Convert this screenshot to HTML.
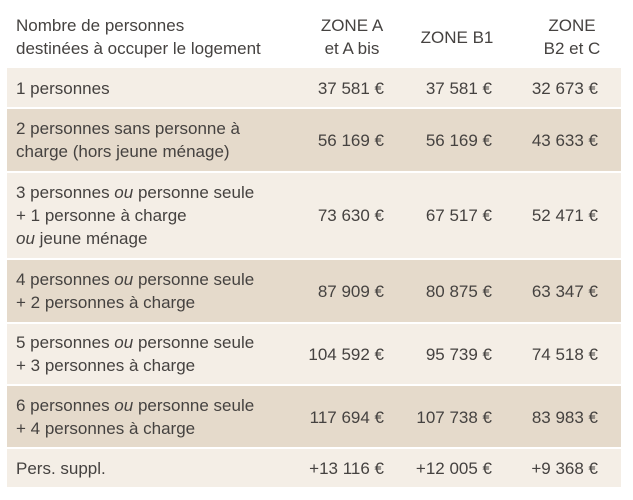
<!DOCTYPE html>
<html><head><meta charset="utf-8"><style>
body{margin:0;width:633px;height:500px;background:#fff;font-family:"Liberation Sans",sans-serif;font-size:17px;color:#454240;position:relative;overflow:hidden}
.r{position:absolute;left:7px;width:614px}
.l{background:#f4eee6}.d{background:#e5dacb}
.t{position:absolute;left:9px;line-height:23px}
.v{position:absolute;line-height:23px;text-align:right;width:110px}
.a{left:267px}.b{left:375px}.c{left:481px}
.h{position:absolute;text-align:center;line-height:23px;width:120px}
</style></head><body>
<div class="t" style="left:16px;top:14px">Nombre de personnes<br>destinées à occuper le logement</div>
<div class="h" style="left:292px;top:14px">ZONE A<br>et A bis</div>
<div class="h" style="left:397px;top:26px">ZONE B1</div>
<div class="h" style="left:512px;top:14px">ZONE<br>B2 et C</div>

<div class="r l" style="top:68px;height:39px"><div class="t" style="top:9px">1 personnes</div><div class="v a" style="top:9px">37 581 €</div><div class="v b" style="top:9px">37 581 €</div><div class="v c" style="top:9px">32 673 €</div></div>
<div class="r d" style="top:109px;height:62px"><div class="t" style="top:8px">2 personnes sans personne à<br>charge (hors jeune ménage)</div><div class="v a" style="top:20px">56 169 €</div><div class="v b" style="top:20px">56 169 €</div><div class="v c" style="top:20px">43 633 €</div></div>
<div class="r l" style="top:173px;height:85px"><div class="t" style="top:8px">3 personnes <i>ou</i> personne seule<br>+ 1 personne à charge<br><i>ou</i> jeune ménage</div><div class="v a" style="top:31px">73 630 €</div><div class="v b" style="top:31px">67 517 €</div><div class="v c" style="top:31px">52 471 €</div></div>
<div class="r d" style="top:260px;height:62px"><div class="t" style="top:8px">4 personnes <i>ou</i> personne seule<br>+ 2 personnes à charge</div><div class="v a" style="top:20px">87 909 €</div><div class="v b" style="top:20px">80 875 €</div><div class="v c" style="top:20px">63 347 €</div></div>
<div class="r l" style="top:324px;height:60px"><div class="t" style="top:7px">5 personnes <i>ou</i> personne seule<br>+ 3 personnes à charge</div><div class="v a" style="top:19px">104 592 €</div><div class="v b" style="top:19px">95 739 €</div><div class="v c" style="top:19px">74 518 €</div></div>
<div class="r d" style="top:386px;height:61px"><div class="t" style="top:8px">6 personnes <i>ou</i> personne seule<br>+ 4 personnes à charge</div><div class="v a" style="top:20px">117 694 €</div><div class="v b" style="top:20px">107 738 €</div><div class="v c" style="top:20px">83 983 €</div></div>
<div class="r l" style="top:449px;height:38px"><div class="t" style="top:8px">Pers. suppl.</div><div class="v a" style="top:8px">+13 116 €</div><div class="v b" style="top:8px">+12 005 €</div><div class="v c" style="top:8px">+9 368 €</div></div>
</body></html>
